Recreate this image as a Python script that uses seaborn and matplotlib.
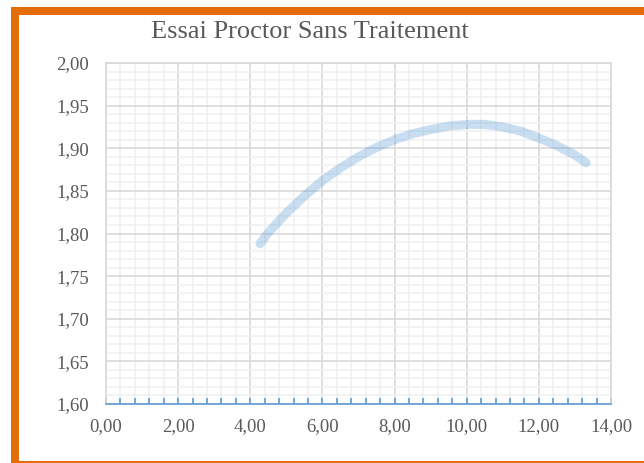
import matplotlib
matplotlib.use("Agg")
import matplotlib.pyplot as plt
from matplotlib.ticker import MultipleLocator, FuncFormatter
from matplotlib.patches import Rectangle
import seaborn as sns
import pandas as pd

title = "Essai Proctor Sans Traitement"
water_content = [4.27, 4.5, 5.0, 5.5, 6.0, 6.5, 7.0, 7.5, 8.0, 8.5, 9.0, 9.5,
                 10.0, 10.5, 11.0, 11.5, 12.0, 12.5, 13.0, 13.31]
dry_density = [1.788, 1.801, 1.824, 1.844, 1.862, 1.877, 1.890, 1.901, 1.910, 1.917,
               1.922, 1.926, 1.928, 1.928, 1.925, 1.920, 1.912, 1.903, 1.892, 1.883]

df = pd.DataFrame({"w": water_content, "d": dry_density})

sns.set_theme(style="white")
plt.rcParams["font.family"] = ["Liberation Serif", "DejaVu Serif"]

fig = plt.figure(figsize=(6.44, 4.63), dpi=100)
ax = fig.add_axes([106/644, 1-404/463, (611-106)/644, (404-63)/463])

sns.lineplot(data=df, x="w", y="d", ax=ax, color="#5B9BD5", alpha=0.33,
             linewidth=6.5, solid_capstyle="round", zorder=3)

ax.set_xlim(0, 14)
ax.set_ylim(1.60, 2.00)
ax.xaxis.set_major_locator(MultipleLocator(2))
ax.xaxis.set_minor_locator(MultipleLocator(0.4))
ax.yaxis.set_major_locator(MultipleLocator(0.05))
ax.yaxis.set_minor_locator(MultipleLocator(0.01))
fmt = FuncFormatter(lambda v, p: f"{v:.2f}".replace(".", ","))
ax.xaxis.set_major_formatter(fmt)
ax.yaxis.set_major_formatter(fmt)

ax.grid(which="major", color="#d9d9d9", linewidth=1.2, zorder=1)
ax.grid(which="minor", color="#f0f0f0", linewidth=1.1, zorder=0)
ax.set_axisbelow(True)

for s in ["top", "right", "left"]:
    ax.spines[s].set_color("#d9d9d9")
    ax.spines[s].set_linewidth(1.2)
ax.spines["bottom"].set_color("#5B9BD5")
ax.spines["bottom"].set_linewidth(1.2)
ax.spines["bottom"].set_zorder(4)

ax.tick_params(axis="x", which="both", bottom=True, top=False)
ax.tick_params(axis="x", which="major", direction="in", length=4, width=1.2,
               color="#5B9BD5", labelsize=13.5, labelcolor="#595959", pad=10)
ax.tick_params(axis="x", which="minor", direction="in", length=4, width=1.2,
               color="#5B9BD5")
ax.tick_params(axis="y", which="both", left=False, length=0, labelsize=13.5,
               labelcolor="#595959", pad=12)
ax.set_xlabel("")
ax.set_ylabel("")

fig.text(310/644, 1-32/463, title, ha="center", va="center", fontsize=19,
         color="#595959")

orange = "#E46C0A"
W, H = 644, 463
bands = [
    (11, 7, 644 - 11, 8),     # top
    (11, 7, 8, 463 - 7),      # left
    (11, 461, 644 - 11, 2),   # bottom
]
for x0, y0, w, h in bands:
    fig.patches.append(Rectangle((x0/W, 1-(y0+h)/H), w/W, h/H,
                                 transform=fig.transFigure, facecolor=orange,
                                 edgecolor="none", clip_on=False))

fig.savefig("out.png", dpi=100, facecolor="white")
